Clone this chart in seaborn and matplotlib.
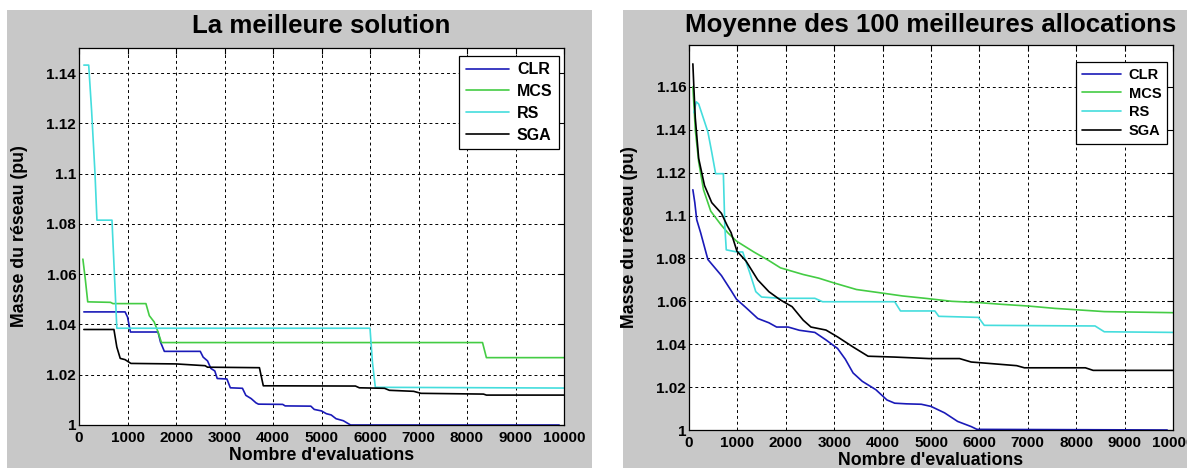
import matplotlib
matplotlib.use("Agg")
import matplotlib.pyplot as plt
from matplotlib.patches import Rectangle
from matplotlib.ticker import FuncFormatter, MultipleLocator
import seaborn as sns

# ---- data: "La meilleure solution" (left) ----
clr_best_x = [100, 950, 1000, 1060, 1630, 1680, 1760, 2500, 2560, 2650, 2720, 2800, 2850, 3050,
              3120, 3370, 3440, 3550, 3650, 3700, 4200, 4250, 4780, 4850, 5000, 5100, 5200, 5300,
              5450, 5600, 9900]
clr_best_y = [1.045, 1.045, 1.043, 1.037, 1.037, 1.033, 1.0293, 1.0293, 1.027, 1.0255, 1.0225,
              1.0215, 1.0185, 1.0183, 1.0148, 1.0146, 1.0118, 1.0105, 1.0088, 1.0083, 1.0082,
              1.0076, 1.0075, 1.0062, 1.0056, 1.0045, 1.004, 1.0025, 1.0017, 1.0, 1.0]
mcs_best_x = [80, 130, 180, 650, 700, 1380, 1450, 1550, 1620, 1700, 8320, 8400, 10000]
mcs_best_y = [1.066, 1.058, 1.049, 1.0488, 1.0483, 1.0483, 1.0435, 1.041, 1.0375, 1.0328,
              1.0328, 1.0268, 1.0268]
rs_best_x = [100, 200, 260, 330, 370, 680, 730, 780, 6000, 6050, 6110, 10000]
rs_best_y = [1.1432, 1.1432, 1.125, 1.10, 1.0815, 1.0815, 1.06, 1.0385, 1.0385, 1.025, 1.015,
             1.0147]
sga_best_x = [100, 720, 780, 850, 950, 1070, 2000, 2600, 2650, 3720, 3800, 5700, 5780, 6300,
              6400, 6900, 7050, 8340, 8400, 10000]
sga_best_y = [1.038, 1.038, 1.031, 1.0265, 1.026, 1.0245, 1.0243, 1.0236, 1.023, 1.0228,
              1.0156, 1.0155, 1.0148, 1.0146, 1.0138, 1.0134, 1.0126, 1.0123, 1.0119, 1.0119]

# ---- data: "Moyenne des 100 meilleures allocations" (right) ----
clr_mean_x = [80, 120, 160, 240, 390, 670, 870, 980, 1180, 1420, 1650, 1810, 2050, 2280, 2600,
              2830, 3070, 3230, 3390, 3580, 3860, 4090, 4250, 4490, 4800, 5000, 5280, 5550,
              5830, 5950, 9880]
clr_mean_y = [1.112, 1.106, 1.098, 1.092, 1.0795, 1.072, 1.065, 1.061, 1.057, 1.052, 1.050,
              1.048, 1.048, 1.0465, 1.0455, 1.042, 1.038, 1.033, 1.0266, 1.0227, 1.0188, 1.014,
              1.0125, 1.0122, 1.012, 1.011, 1.008, 1.004, 1.0016, 1.0003, 1.0]
mcs_mean_x = [80, 130, 200, 300, 450, 650, 800, 985, 1340, 1650, 1890, 2360, 2680, 2990, 3460,
              3940, 4410, 4880, 5430, 5980, 6460, 7010, 7560, 8110, 8580, 9130, 10000]
mcs_mean_y = [1.16, 1.14, 1.125, 1.112, 1.102, 1.096, 1.092, 1.088, 1.083, 1.079, 1.0756,
              1.0725, 1.0708, 1.0686, 1.0655, 1.064, 1.0625, 1.0614, 1.060, 1.0594, 1.0586,
              1.0578, 1.0567, 1.0559, 1.0552, 1.055, 1.0547]
rs_mean_x = [100, 150, 200, 390, 470, 550, 710, 740, 770, 990, 1110, 1260, 1380, 1500, 1890,
             2600, 2760, 4250, 4370, 5080, 5160, 5980, 6100, 8390, 8580, 10000]
rs_mean_y = [1.148, 1.153, 1.152, 1.139, 1.1295, 1.1195, 1.1195, 1.095, 1.084, 1.083, 1.083,
             1.073, 1.0645, 1.062, 1.0614, 1.0614, 1.0598, 1.0598, 1.0555, 1.0555, 1.053,
             1.0525, 1.0488, 1.0485, 1.0458, 1.0455]
sga_mean_x = [80, 100, 130, 200, 320, 470, 670, 790, 870, 990, 1180, 1420, 1650, 1890, 2130,
              2360, 2520, 2830, 3070, 3390, 3700, 4250, 4960, 5590, 5830, 6220, 6770, 6930,
              8190, 8350, 10000]
sga_mean_y = [1.1707, 1.160, 1.1455, 1.1266, 1.114, 1.106, 1.101, 1.0953, 1.092, 1.0834,
              1.0787, 1.070, 1.0645, 1.0606, 1.0575, 1.0512, 1.048, 1.0466, 1.0434, 1.0387,
              1.0344, 1.034, 1.0333, 1.0333, 1.0317, 1.031, 1.030, 1.029, 1.029, 1.0278, 1.0278]

labels = ['CLR', 'MCS', 'RS', 'SGA']
colors = ['#1a1ab8', '#44cc44', '#44dddd', 'black']

sns.set_style('white')
plt.rcParams['font.family'] = ['Liberation Sans', 'DejaVu Sans']
plt.rcParams['font.weight'] = 'bold'
plt.rcParams['text.color'] = 'black'
plt.rcParams['axes.labelcolor'] = 'black'
plt.rcParams['xtick.color'] = 'black'
plt.rcParams['ytick.color'] = 'black'

W, H = 1187, 468
fig = plt.figure(figsize=(W / 100, H / 100), dpi=100)
fig.patch.set_facecolor('white')

# MATLAB-like grey figure panels
for x0, x1 in [(7, 592), (623, 1187)]:
    fig.add_artist(Rectangle((x0 / W, 0), (x1 - x0) / W, 1 - 10 / H,
                             transform=fig.transFigure, facecolor='#c8c8c8',
                             edgecolor='none', zorder=-10))


def px_axes(l, t, r, b):
    return fig.add_axes([l / W, 1 - b / H, (r - l) / W, (b - t) / H])


ax1 = px_axes(79, 48, 564, 425)
ax2 = px_axes(689, 45, 1173, 430)

panels = [
    (ax1, [(clr_best_x, clr_best_y), (mcs_best_x, mcs_best_y), (rs_best_x, rs_best_y),
           (sga_best_x, sga_best_y)], 1.15, 'La meilleure solution', 33, 11.5, 0.42,
     (0.9897, 0.9788)),
    (ax2, [(clr_mean_x, clr_mean_y), (mcs_mean_x, mcs_mean_y), (rs_mean_x, rs_mean_y),
           (sga_mean_x, sga_mean_y)], 1.1795, 'Moyenne des 100 meilleures allocations', 32,
     10.5, 0.32, (0.9876, 0.9558)),
]

for ax, series, ytop, title, title_base, leg_fs, leg_sp, anchor in panels:
    ax.set_facecolor('white')
    for (xs, ys), lab, col in zip(series, labels, colors):
        sns.lineplot(x=xs, y=ys, ax=ax, color=col, label=lab, linewidth=1.2,
                     estimator=None, sort=False)
    ax.set_xlim(0, 10000)
    ax.set_ylim(1, ytop)
    ax.xaxis.set_major_locator(MultipleLocator(1000))
    ax.yaxis.set_major_locator(MultipleLocator(0.02))
    ax.xaxis.set_major_formatter(FuncFormatter(lambda v, p: f'{v:.0f}'))
    ax.yaxis.set_major_formatter(FuncFormatter(lambda v, p: f'{round(v, 4):g}'))
    ax.grid(True, color='black', linestyle=(0, (3, 3)), linewidth=0.7)
    ax.tick_params(direction='in', top=True, right=True, length=4, width=0.8,
                   labelsize=11, colors='black')
    ax.tick_params(axis='x', pad=4)
    ax.tick_params(axis='y', pad=2)
    for lab in ax.get_xticklabels() + ax.get_yticklabels():
        lab.set_fontweight('bold')
    for sp in ax.spines.values():
        sp.set_color('black')
        sp.set_linewidth(0.9)
    ax.set_xlabel("Nombre d'evaluations", fontsize=12.8, fontweight='bold')
    ax.set_ylabel('Masse du réseau (pu)', fontsize=12.8, fontweight='bold')
    ax.xaxis.set_label_coords(0.5, -0.058)
    ax.yaxis.set_label_coords(-0.105, 0.5)
    pos = ax.get_position()
    fig.text(pos.x0 + pos.width / 2, 1 - title_base / H, title, ha='center', va='baseline',
             fontsize=18.6, fontweight='bold')
    leg = ax.legend(loc='upper right', bbox_to_anchor=anchor, fontsize=leg_fs,
                    frameon=True, fancybox=False, edgecolor='black', framealpha=1,
                    labelspacing=leg_sp, handlelength=2.7, handletextpad=0.5,
                    borderaxespad=0)
    leg.get_frame().set_linewidth(0.9)
    for t in leg.get_texts():
        t.set_fontweight('bold')

fig.savefig('out.png', dpi=100, facecolor=fig.get_facecolor())
